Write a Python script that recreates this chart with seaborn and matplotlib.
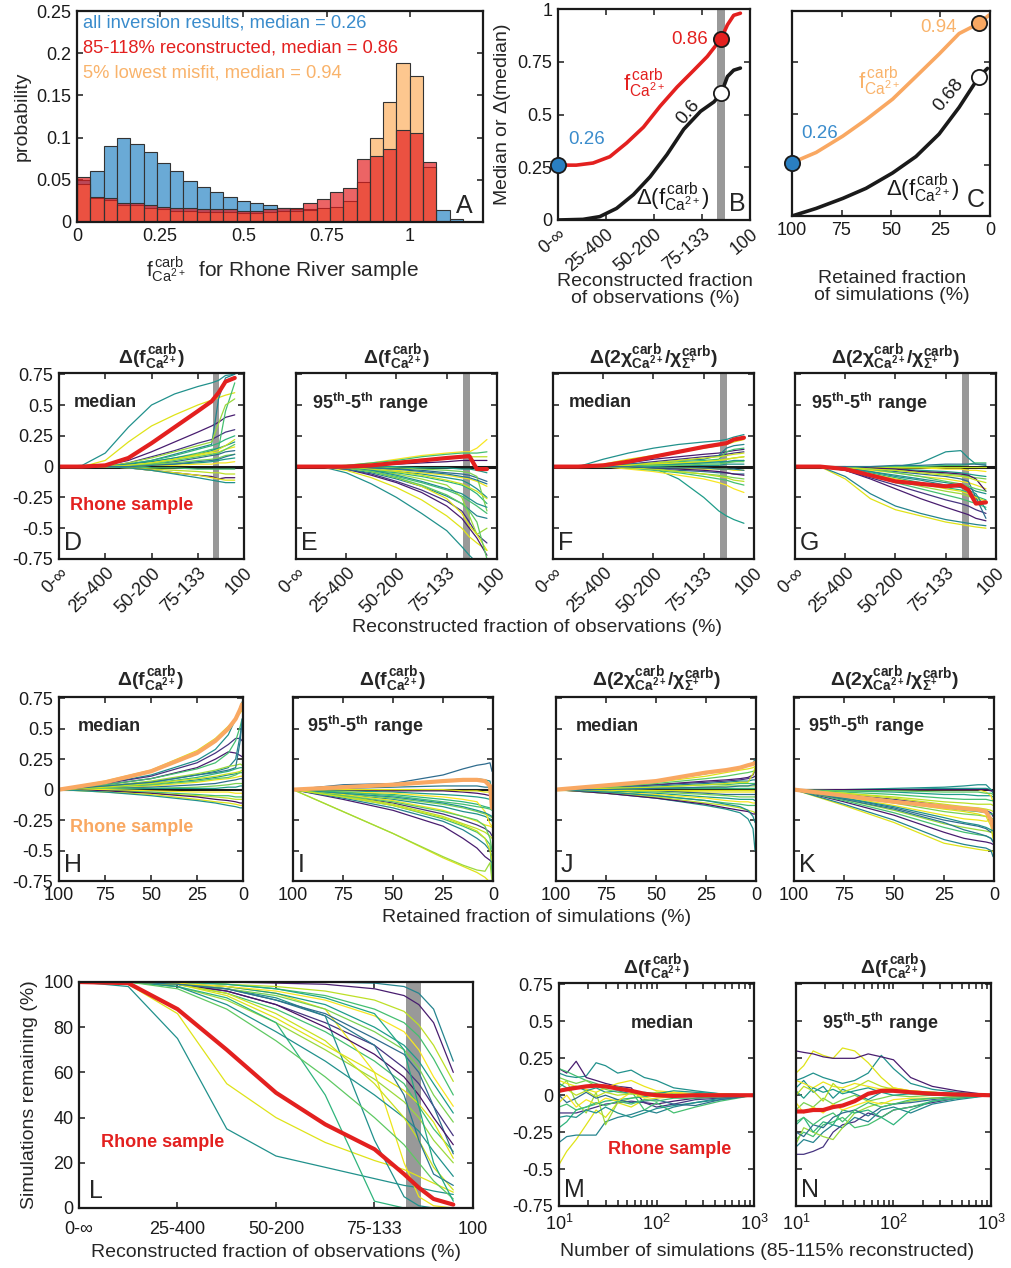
import numpy as np
import pandas as pd
import seaborn as sns
import matplotlib
matplotlib.use("Agg")
import matplotlib.pyplot as plt

sns.set_theme(style="ticks")
plt.rcParams["font.family"] = ["Liberation Sans", "DejaVu Sans"]
plt.rcParams["mathtext.fontset"] = "custom"
plt.rcParams["mathtext.rm"] = "Liberation Sans"
plt.rcParams["mathtext.it"] = "Liberation Sans"
plt.rcParams["mathtext.bf"] = "Liberation Sans:bold"

# ---------------- data ----------------
# panel A histograms (bin width 0.04, from 0 to 1.2)
BIN_EDGES = [round(0.04 * i, 2) for i in range(31)]
ALL_RESULTS = [0.050, 0.060, 0.090, 0.100, 0.092, 0.083, 0.070, 0.060, 0.049, 0.041,
               0.035, 0.030, 0.025, 0.022, 0.020, 0.017, 0.015, 0.015, 0.015, 0.015,
               0.015, 0.015, 0.015, 0.015, 0.015, 0.015, 0.015, 0.014, 0.003, 0.0]
LOW_MISFIT = [0.045, 0.028, 0.026, 0.020, 0.020, 0.017, 0.015, 0.013, 0.013, 0.012,
              0.012, 0.012, 0.011, 0.011, 0.012, 0.013, 0.013, 0.014, 0.016, 0.018,
              0.025, 0.047, 0.100, 0.142, 0.188, 0.173, 0.065, 0.0, 0.0, 0.0]
RECONSTRUCTED = [0.053, 0.030, 0.029, 0.023, 0.023, 0.020, 0.018, 0.016, 0.016, 0.015,
                 0.015, 0.015, 0.013, 0.013, 0.015, 0.017, 0.016, 0.022, 0.027, 0.036,
                 0.040, 0.075, 0.078, 0.086, 0.109, 0.106, 0.071, 0.0, 0.0, 0.0]

# panel B
B_XF = [0, 0.38, 0.73, 1.08, 1.43, 1.78, 2.13, 2.48, 2.83, 3.11, 3.40, 3.53, 3.66, 3.80]
B_F = [0.26, 0.26, 0.27, 0.30, 0.365, 0.44, 0.54, 0.63, 0.71, 0.775, 0.86, 0.925, 0.97, 0.98]
B_XD = [0, 0.52, 0.87, 1.22, 1.57, 1.92, 2.27, 2.62, 2.97, 3.25, 3.40, 3.53, 3.66, 3.80]
B_D = [0, 0.003, 0.016, 0.055, 0.12, 0.205, 0.31, 0.43, 0.515, 0.56, 0.60, 0.68, 0.71, 0.72]

# panel C
C_XF = [100, 87.8, 74.3, 62.6, 49.2, 37.4, 25.7, 15.6, 5.5, 0.5]
C_F = [0.26, 0.31, 0.39, 0.47, 0.57, 0.68, 0.79, 0.89, 0.94, 0.98]
C_XD = [100, 87.8, 74.3, 62.6, 49.2, 37.4, 25.7, 15.6, 5.5, 1.3]
C_D = [0, 0.037, 0.086, 0.135, 0.21, 0.29, 0.40, 0.53, 0.68, 0.72]

CATS = ["0-\u221e", "25-400", "50-200", "75-133", "100"]
SIM_SHADES = [0.5, 0.95, 0.08, 0.15, 0.45, 0.7, 0.85, 0.65, 0.5, 0.97, 0.35,
              0.8, 0.55, 0.99, 0.7, 0.9, 0.05, 0.95, 0.5, 0.75, 0.92, 0.4, 0.6]

# panels D-G, L: reconstructed fraction grid
X_REC = [0, 0.5, 1, 1.5, 2, 2.5, 3, 3.3, 3.45, 3.6, 3.8]
RHONE_D = [0, 0, 0.01, 0.07, 0.19, 0.32, 0.45, 0.53, 0.60, 0.69, 0.72]
D_MEDIAN = [
    [0, 0.01, 0.11, 0.32, 0.50, 0.59, 0.65, 0.68, 0.70, 0.74, 0.75],
    [0, 0, 0.05, 0.20, 0.33, 0.42, 0.50, 0.54, 0.56, 0.58, 0.60],
    [0, 0, 0.01, 0.05, 0.12, 0.20, 0.28, 0.33, 0.36, 0.40, 0.42],
    [0, 0, 0, 0.03, 0.08, 0.13, 0.19, 0.22, 0.25, 0.28, 0.30],
    [0, 0, 0, 0.02, 0.05, 0.10, 0.15, 0.18, 0.55, 0.72, 0.75],
    [0, 0, 0, 0.02, 0.04, 0.07, 0.11, 0.14, 0.15, 0.45, 0.68],
    [0, 0, 0, 0.03, 0.07, 0.12, 0.17, 0.20, 0.35, 0.50, 0.55],
    [0, 0, 0, 0.02, 0.05, 0.09, 0.14, 0.17, 0.19, 0.22, 0.25],
    [0, 0, 0, 0.02, 0.04, 0.07, 0.10, 0.13, 0.15, 0.17, 0.20],
    [0, 0, 0, 0.01, 0.03, 0.06, 0.09, 0.11, 0.12, 0.14, 0.16],
    [0, 0, 0, 0.01, 0.02, 0.04, 0.07, 0.09, 0.10, 0.12, 0.13],
    [0, 0, 0, 0.01, 0.02, 0.03, 0.05, 0.06, 0.07, 0.09, 0.10],
    [0, 0, 0, 0, 0.01, 0.02, 0.03, 0.04, 0.05, 0.06, 0.07],
    [0, 0, 0, 0, 0.01, 0.01, 0.02, 0.02, 0.03, 0.03, 0.04],
    [0, 0, 0, 0, -0.01, -0.01, -0.02, -0.02, -0.02, -0.02, -0.02],
    [0, 0, 0, -0.01, -0.02, -0.03, -0.04, -0.05, -0.05, -0.06, -0.06],
    [0, 0, 0, -0.01, -0.03, -0.05, -0.07, -0.08, -0.10, -0.09, -0.09],
    [0, 0, 0, -0.01, -0.03, -0.05, -0.07, -0.09, -0.10, -0.11, -0.11],
    [0, 0, 0, -0.01, -0.03, -0.06, -0.09, -0.11, -0.12, -0.13, -0.13],
    [0, 0, 0, 0, 0.02, 0.05, 0.08, 0.10, 0.11, 0.14, 0.18],
    [0, 0, 0, 0.01, 0.03, 0.06, 0.10, 0.12, 0.14, 0.17, 0.22],
    [0, 0, 0, 0, 0.01, 0.02, 0.04, 0.05, 0.06, 0.08, 0.10],
]
RHONE_E = [0, 0, 0, 0.01, 0.03, 0.05, 0.07, 0.08, 0.085, -0.02, -0.02]
E_RANGE = [
    [0, 0, -0.05, -0.14, -0.25, -0.38, -0.52, -0.65, -0.72, -0.78, -0.80],
    [0, 0, -0.03, -0.09, -0.17, -0.27, -0.40, -0.50, -0.57, -0.62, -0.68],
    [0, 0, -0.02, -0.07, -0.13, -0.21, -0.32, -0.42, -0.50, -0.58, -0.72],
    [0, 0, -0.02, -0.06, -0.12, -0.19, -0.28, -0.36, -0.45, -0.55, -0.62],
    [0, 0, -0.02, -0.05, -0.10, -0.16, -0.24, -0.30, -0.35, -0.40, -0.42],
    [0, 0, -0.01, -0.04, -0.08, -0.13, -0.19, -0.24, -0.28, -0.32, -0.38],
    [0, 0, -0.01, -0.03, -0.06, -0.10, -0.15, -0.25, -0.40, -0.55, -0.50],
    [0, 0, -0.01, -0.03, -0.05, -0.08, -0.12, -0.15, -0.18, -0.22, -0.30],
    [0, 0, 0, -0.02, -0.04, -0.06, -0.09, -0.11, -0.14, -0.18, -0.25],
    [0, 0, 0, -0.01, -0.03, -0.05, -0.07, -0.09, -0.10, -0.12, -0.16],
    [0, 0, 0, -0.01, -0.02, -0.03, -0.05, -0.06, -0.07, -0.09, -0.12],
    [0, 0, 0, 0, -0.01, -0.02, -0.03, -0.04, -0.05, -0.08, -0.36],
    [0, 0, 0, 0, 0, -0.01, -0.01, -0.02, -0.02, -0.03, -0.05],
    [0, 0, 0.01, 0.03, 0.06, 0.09, 0.11, 0.12, 0.12, 0.15, 0.22],
    [0, 0, 0.01, 0.03, 0.05, 0.08, 0.10, 0.11, 0.11, 0.11, 0.12],
    [0, 0, 0, 0.02, 0.04, 0.06, 0.07, 0.08, 0.08, 0.08, 0.08],
    [0, 0, 0, 0.01, 0.02, 0.03, 0.04, 0.05, 0.05, 0.05, 0.05],
    [0, 0, -0.01, -0.04, -0.09, -0.16, -0.26, -0.38, -0.48, -0.55, -0.68],
    [0, 0, -0.01, -0.03, -0.07, -0.12, -0.18, -0.22, -0.26, -0.30, -0.33],
    [0, 0, -0.01, -0.04, -0.09, -0.15, -0.23, -0.30, -0.36, -0.45, -0.75],
    [0, 0, 0, -0.02, -0.04, -0.07, -0.11, -0.14, -0.17, -0.20, -0.26],
    [0, 0, 0, -0.01, -0.02, -0.04, -0.06, -0.08, -0.09, -0.11, -0.14],
]
RHONE_F = [0, 0, 0.01, 0.04, 0.08, 0.12, 0.16, 0.18, 0.19, 0.22, 0.235]
F_MEDIAN = [
    [0, 0, 0.06, 0.11, 0.15, 0.18, 0.20, 0.21, 0.22, 0.24, 0.26],
    [0, 0, 0.02, 0.06, 0.09, 0.12, 0.15, 0.17, 0.18, 0.20, 0.22],
    [0, 0, 0.01, 0.03, 0.06, 0.08, 0.10, 0.11, 0.12, 0.13, 0.14],
    [0, 0, 0.01, 0.02, 0.04, 0.06, 0.08, 0.09, 0.10, 0.11, 0.12],
    [0, 0, 0, 0.02, 0.03, 0.05, 0.06, 0.09, 0.15, 0.17, 0.18],
    [0, 0, 0, 0.01, 0.02, 0.04, 0.05, 0.06, 0.12, 0.14, 0.15],
    [0, 0, 0, 0.01, 0.02, 0.03, 0.04, 0.05, 0.06, 0.07, 0.08],
    [0, 0, 0, 0, 0.01, 0.02, 0.03, 0.03, 0.04, 0.04, 0.05],
    [0, 0, 0, 0, 0, 0.01, 0.01, 0.01, 0.02, 0.02, 0.02],
    [0, 0, 0, 0, -0.01, -0.01, -0.02, -0.02, -0.02, -0.03, -0.03],
    [0, 0, 0, -0.01, -0.02, -0.03, -0.04, -0.05, -0.05, -0.06, -0.06],
    [0, 0, 0, -0.01, -0.02, -0.04, -0.06, -0.07, -0.08, -0.09, -0.10],
    [0, 0, 0, 0, -0.01, -0.10, -0.25, -0.36, -0.40, -0.43, -0.46],
    [0, 0, 0, -0.02, -0.04, -0.07, -0.10, -0.13, -0.15, -0.18, -0.21],
    [0, 0, 0, -0.01, -0.03, -0.05, -0.08, -0.10, -0.11, -0.13, -0.15],
    [0, 0, 0, -0.01, -0.02, -0.04, -0.06, -0.08, -0.09, -0.11, -0.12],
    [0, 0, 0, 0, -0.01, -0.02, -0.03, -0.04, -0.05, -0.06, -0.07],
    [0, 0, 0, 0.01, 0.02, 0.03, 0.04, 0.05, 0.06, 0.07, 0.08],
    [0, 0, 0, 0.01, 0.01, 0.02, 0.03, 0.04, 0.04, 0.05, 0.05],
    [0, 0, 0, 0, 0.01, 0.01, 0.02, 0.02, 0.03, 0.04, 0.04],
    [0, 0, 0, 0.01, 0.03, 0.05, 0.07, 0.08, 0.09, 0.10, 0.11],
    [0, 0, 0, 0, -0.01, -0.01, -0.01, -0.02, -0.02, -0.02, -0.03],
]
RHONE_G = [0, 0, -0.02, -0.07, -0.12, -0.14, -0.16, -0.15, -0.19, -0.30, -0.29]
G_RANGE = [
    [0, 0, 0, 0, 0, 0.03, 0.12, 0.13, 0.07, 0.02, 0.01],
    [0, 0, -0.10, -0.26, -0.35, -0.40, -0.45, -0.47, -0.48, -0.49, -0.50],
    [0, 0, -0.03, -0.10, -0.18, -0.26, -0.33, -0.37, -0.39, -0.42, -0.44],
    [0, 0, -0.03, -0.09, -0.15, -0.21, -0.27, -0.30, -0.32, -0.35, -0.38],
    [0, 0, -0.08, -0.22, -0.32, -0.38, -0.43, -0.45, -0.46, -0.47, -0.48],
    [0, 0, -0.02, -0.07, -0.13, -0.18, -0.23, -0.26, -0.28, -0.30, -0.33],
    [0, 0, -0.02, -0.06, -0.11, -0.16, -0.20, -0.22, -0.24, -0.26, -0.30],
    [0, 0, -0.01, -0.05, -0.09, -0.13, -0.17, -0.19, -0.21, -0.24, -0.27],
    [0, 0, -0.01, -0.04, -0.07, -0.10, -0.13, -0.15, -0.17, -0.20, -0.22],
    [0, 0, -0.01, -0.03, -0.05, -0.08, -0.10, -0.12, -0.13, -0.15, -0.18],
    [0, 0, 0, -0.02, -0.04, -0.06, -0.08, -0.10, -0.12, -0.25, -0.42],
    [0, 0, 0, -0.01, -0.03, -0.04, -0.06, -0.07, -0.08, -0.09, -0.10],
    [0, 0, 0, -0.01, -0.02, -0.03, -0.04, -0.05, -0.06, -0.07, -0.08],
    [0, 0, 0, 0, -0.01, -0.01, -0.02, -0.02, -0.03, -0.03, -0.04],
    [0, 0, 0, 0, 0, 0, 0.01, 0.01, 0.02, 0.03, 0.03],
    [0, 0, 0, 0, 0, 0, 0, 0, 0, 0, 0],
    [0, 0, 0, -0.01, -0.02, -0.04, -0.05, -0.06, -0.07, -0.10, -0.20],
    [0, 0, -0.02, -0.06, -0.10, -0.14, -0.18, -0.20, -0.22, -0.25, -0.28],
    [0, 0, -0.01, -0.04, -0.08, -0.11, -0.15, -0.17, -0.19, -0.22, -0.35],
    [0, 0, 0, -0.02, -0.05, -0.08, -0.12, -0.14, -0.16, -0.18, -0.20],
    [0, 0, -0.01, -0.02, -0.03, -0.05, -0.07, -0.08, -0.09, -0.11, -0.13],
    [0, 0, 0, 0, 0.01, 0.01, 0.02, 0.02, 0.02, 0.02, 0.02],
]

# panels H-K: retained fraction grid
X_RET = [100, 75, 50, 25, 15, 8, 4, 1.5, 0.5]
RHONE_H = [0, 0.06, 0.15, 0.30, 0.40, 0.50, 0.58, 0.66, 0.70]
H_MEDIAN = [
    [0, 0.05, 0.12, 0.24, 0.33, 0.45, 0.58, 0.68, 0.72],
    [0, 0.07, 0.16, 0.32, 0.42, 0.52, 0.58, 0.63, 0.65],
    [0, 0.04, 0.09, 0.18, 0.25, 0.31, 0.30, 0.28, 0.27],
    [0, 0.05, 0.11, 0.22, 0.30, 0.37, 0.42, 0.42, 0.40],
    [0, 0.03, 0.06, 0.12, 0.15, 0.18, 0.25, 0.45, 0.55],
    [0, 0.04, 0.09, 0.17, 0.22, 0.30, 0.40, 0.52, 0.58],
    [0, 0.03, 0.07, 0.13, 0.16, 0.19, 0.20, 0.21, 0.20],
    [0, 0.02, 0.05, 0.10, 0.13, 0.15, 0.17, 0.18, 0.18],
    [0, 0.02, 0.04, 0.08, 0.10, 0.12, 0.13, 0.14, 0.14],
    [0, 0.01, 0.03, 0.06, 0.08, 0.09, 0.10, 0.11, 0.11],
    [0, 0.01, 0.02, 0.04, 0.05, 0.07, 0.08, 0.09, 0.09],
    [0, 0.01, 0.01, 0.02, 0.03, 0.04, 0.05, 0.05, 0.05],
    [0, 0, 0.01, 0.01, 0.01, 0.02, 0.02, 0.03, 0.03],
    [0, 0, -0.01, -0.02, -0.02, -0.02, -0.03, -0.03, -0.03],
    [0, -0.01, -0.02, -0.04, -0.05, -0.05, -0.06, -0.06, -0.06],
    [0, -0.01, -0.03, -0.05, -0.06, -0.07, -0.08, -0.08, -0.08],
    [0, -0.01, -0.03, -0.06, -0.08, -0.09, -0.10, -0.11, -0.11],
    [0, -0.02, -0.04, -0.08, -0.10, -0.11, -0.12, -0.13, -0.13],
    [0, -0.02, -0.05, -0.09, -0.11, -0.13, -0.14, -0.15, -0.15],
    [0, 0.02, 0.04, 0.07, 0.09, 0.10, 0.12, 0.14, 0.14],
    [0, 0.02, 0.05, 0.09, 0.11, 0.13, 0.14, 0.15, 0.16],
    [0, 0.03, 0.06, 0.12, 0.14, 0.16, 0.18, 0.40, 0.58],
]
RHONE_I = [0, 0.02, 0.04, 0.07, 0.08, 0.08, 0.07, 0.03, -0.15]
I_RANGE = [
    [0, 0.02, 0.04, 0.07, 0.09, 0.09, 0.08, 0.07, -0.05],
    [0, -0.18, -0.36, -0.56, -0.63, -0.68, -0.72, -0.76, -0.78],
    [0, -0.08, -0.17, -0.30, -0.40, -0.48, -0.55, -0.58, -0.60],
    [0, -0.05, -0.11, -0.20, -0.25, -0.29, -0.32, -0.35, -0.38],
    [0, -0.07, -0.15, -0.26, -0.33, -0.40, -0.45, -0.50, -0.55],
    [0, -0.06, -0.13, -0.24, -0.30, -0.35, -0.40, -0.45, -0.70],
    [0, -0.18, -0.36, -0.55, -0.62, -0.66, -0.67, -0.60, -0.75],
    [0, -0.02, -0.04, -0.08, -0.10, -0.12, -0.14, -0.15, -0.16],
    [0, -0.04, -0.08, -0.14, -0.18, -0.20, -0.22, -0.24, -0.26],
    [0, -0.04, -0.09, -0.17, -0.22, -0.26, -0.29, -0.30, -0.31],
    [0, 0.04, 0.05, 0.12, 0.17, 0.20, 0.21, 0.22, 0.15],
    [0, -0.03, -0.07, -0.12, -0.15, -0.18, -0.20, -0.22, -0.23],
    [0, -0.01, -0.02, -0.04, -0.05, -0.06, -0.07, -0.08, -0.10],
    [0, -0.02, -0.03, -0.06, -0.08, -0.10, -0.18, -0.28, -0.30],
    [0, -0.02, -0.05, -0.10, -0.12, -0.14, -0.15, -0.16, -0.17],
    [0, -0.05, -0.12, -0.22, -0.28, -0.32, -0.35, -0.38, -0.40],
    [0, 0, -0.01, -0.01, -0.02, -0.03, -0.04, -0.05, -0.06],
    [0, 0, 0, 0, -0.01, -0.01, -0.02, -0.02, -0.03],
    [0, -0.03, -0.06, -0.11, -0.14, -0.17, -0.19, -0.21, -0.22],
    [0, -0.05, -0.10, -0.18, -0.22, -0.25, -0.30, -0.40, -0.50],
    [0, -0.06, -0.13, -0.23, -0.29, -0.34, -0.40, -0.50, -0.58],
    [0, 0.01, 0.02, 0.03, 0.03, 0.03, 0.02, 0.02, 0.01],
]
RHONE_J = [0, 0.035, 0.07, 0.14, 0.16, 0.18, 0.20, 0.21, 0.22]
J_MEDIAN = [
    [0, 0.03, 0.07, 0.13, 0.16, 0.18, 0.20, 0.22, 0.25],
    [0, 0.03, 0.06, 0.11, 0.14, 0.16, 0.17, 0.18, 0.19],
    [0, 0.02, 0.04, 0.07, 0.08, 0.09, 0.10, 0.12, 0.16],
    [0, 0.02, 0.04, 0.06, 0.07, 0.08, 0.09, 0.10, 0.11],
    [0, 0.01, 0.03, 0.05, 0.06, 0.07, 0.07, 0.08, 0.08],
    [0, 0.01, 0.02, 0.04, 0.04, 0.05, 0.05, 0.05, 0.05],
    [0, 0.01, 0.01, 0.02, 0.03, 0.03, 0.03, 0.03, 0.03],
    [0, 0, 0.01, 0.01, 0.01, 0.01, 0.01, 0.01, 0.01],
    [0, -0.03, -0.07, -0.13, -0.16, -0.19, -0.24, -0.32, -0.50],
    [0, 0, -0.01, -0.02, -0.02, -0.02, -0.02, -0.02, -0.02],
    [0, -0.01, -0.01, -0.03, -0.04, -0.04, -0.04, -0.04, -0.04],
    [0, -0.01, -0.02, -0.04, -0.05, -0.06, -0.06, -0.06, -0.06],
    [0, -0.01, -0.03, -0.06, -0.07, -0.08, -0.08, -0.08, -0.09],
    [0, -0.02, -0.04, -0.07, -0.09, -0.10, -0.10, -0.11, -0.11],
    [0, -0.02, -0.05, -0.09, -0.11, -0.12, -0.13, -0.13, -0.13],
    [0, -0.03, -0.06, -0.11, -0.13, -0.15, -0.17, -0.18, -0.19],
    [0, -0.03, -0.07, -0.12, -0.15, -0.17, -0.18, -0.20, -0.20],
    [0, 0, 0, 0, 0, 0, 0, 0, 0],
    [0, -0.02, -0.05, -0.09, -0.12, -0.14, -0.17, -0.22, -0.27],
    [0, 0.02, 0.05, 0.09, 0.11, 0.13, 0.14, 0.15, 0.15],
    [0, 0.01, 0.02, 0.04, 0.05, 0.06, 0.06, 0.13, 0.18],
    [0, 0, 0.01, 0.02, 0.02, 0.03, 0.03, 0.04, 0.04],
]
RHONE_K = [0, -0.05, -0.10, -0.14, -0.155, -0.165, -0.18, -0.25, -0.31]
K_RANGE = [
    [0, 0, 0.01, 0.02, 0.03, 0.04, 0.04, 0.0, -0.01],
    [0, -0.13, -0.27, -0.44, -0.47, -0.49, -0.50, -0.50, -0.51],
    [0, -0.10, -0.21, -0.35, -0.40, -0.42, -0.43, -0.44, -0.45],
    [0, -0.04, -0.08, -0.13, -0.15, -0.16, -0.17, -0.19, -0.22],
    [0, -0.12, -0.25, -0.41, -0.45, -0.47, -0.48, -0.50, -0.55],
    [0, -0.09, -0.19, -0.31, -0.35, -0.37, -0.38, -0.40, -0.42],
    [0, -0.08, -0.17, -0.28, -0.31, -0.33, -0.34, -0.35, -0.36],
    [0, -0.04, -0.09, -0.15, -0.17, -0.18, -0.19, -0.20, -0.20],
    [0, 0, 0, 0.01, 0.01, 0.01, 0.01, 0.0, -0.03],
    [0, -0.06, -0.13, -0.21, -0.24, -0.25, -0.26, -0.25, -0.25],
    [0, -0.07, -0.15, -0.25, -0.28, -0.30, -0.32, -0.35, -0.30],
    [0, -0.05, -0.11, -0.18, -0.20, -0.21, -0.22, -0.23, -0.24],
    [0, -0.01, -0.02, -0.04, -0.04, -0.05, -0.05, -0.05, -0.06],
    [0, 0, 0, 0, 0, 0, -0.02, -0.05, -0.10],
    [0, -0.02, -0.04, -0.07, -0.08, -0.08, -0.08, -0.09, -0.09],
    [0, -0.03, -0.06, -0.10, -0.11, -0.12, -0.12, -0.12, -0.13],
    [0, 0, 0, 0, 0, 0, 0, -0.01, -0.01],
    [0, -0.05, -0.10, -0.16, -0.18, -0.20, -0.22, -0.30, -0.40],
    [0, -0.07, -0.14, -0.23, -0.27, -0.29, -0.31, -0.33, -0.34],
    [0, -0.01, -0.01, -0.02, -0.02, -0.02, -0.03, -0.03, -0.04],
    [0, -0.03, -0.07, -0.12, -0.14, -0.15, -0.16, -0.17, -0.18],
    [0, -0.08, -0.16, -0.27, -0.33, -0.36, -0.38, -0.40, -0.43],
]

# panel L: simulations remaining (%)
RHONE_L = [100, 99.5, 88, 70, 51, 37, 26, 15, 9, 4, 1.5]
L_REMAIN = [
    [100, 98, 75, 35, 23, 18, 13, 10, 9, 7.5, 6],
    [100, 99, 86, 55, 40, 29, 21, 17, 14, 11, 7],
    [100, 100, 100, 100, 99.5, 99, 97, 94, 90, 82, 60],
    [100, 100, 99, 96, 90, 82, 72, 62, 55, 45, 32],
    [100, 100, 100, 100, 100, 100, 99.5, 98, 95, 88, 65],
    [100, 100, 99, 95, 88, 78, 65, 55, 45, 35, 25],
    [100, 100, 98, 92, 82, 70, 57, 47, 40, 30, 20],
    [100, 100, 98, 93, 82, 50, 3, 0, 0, 0, 0],
    [100, 100, 99, 97, 93, 85, 30, 5, 1, 0, 0],
    [100, 100, 99, 98, 95, 88, 60, 20, 5, 1, 0],
    [100, 100, 99, 97, 92, 86, 75, 68, 60, 45, 24],
    [100, 100, 99, 97, 94, 88, 78, 70, 62, 50, 38],
    [100, 100, 99.5, 98, 95, 90, 80, 72, 65, 55, 42],
    [100, 100, 99.5, 98, 96, 92, 85, 78, 70, 58, 45],
    [100, 100, 100, 99, 97, 94, 88, 82, 76, 66, 50],
    [100, 100, 100, 99, 98, 96, 92, 87, 81, 72, 56],
    [100, 100, 99, 96, 90, 80, 68, 58, 50, 40, 28],
    [100, 100, 99, 94, 84, 72, 60, 52, 46, 38, 22],
    [100, 100, 98, 90, 78, 65, 50, 40, 34, 25, 14],
    [100, 100, 97, 88, 74, 58, 40, 28, 20, 12, 4],
    [100, 100, 99, 95, 86, 74, 55, 40, 30, 18, 8],
    [100, 100, 99, 97, 92, 85, 72, 50, 30, 15, 10],
    [100, 100, 100, 99, 97, 93, 86, 70, 45, 20, 3],
]

# panels M, N: number of simulations
X_NSIM = [10, 12, 15, 19, 24, 30, 40, 55, 75, 100, 150, 250, 450, 1000]
RHONE_M = [0.03, 0.04, 0.05, 0.06, 0.065, 0.06, 0.045, 0.03, 0.01, 0.0, -0.005, 0.0, 0.0, 0.0]
M_MEDIAN = [
    [0.15, 0.13, 0.12, 0.13, 0.22, 0.20, 0.15, 0.17, 0.12, 0.10, 0.05, 0.03, 0.01, 0.0],
    [-0.47, -0.38, -0.30, -0.20, -0.10, -0.15, -0.05, -0.08, -0.03, -0.02, -0.01, 0.0, 0.0, 0.0],
    [0.18, 0.15, 0.23, 0.12, 0.10, 0.08, 0.06, 0.05, -0.05, -0.06, -0.04, -0.02, -0.01, 0.0],
    [-0.12, -0.12, -0.12, -0.10, -0.08, -0.06, -0.05, -0.04, -0.05, -0.08, -0.06, -0.03, -0.02, 0.0],
    [-0.32, -0.28, -0.27, -0.27, -0.27, -0.18, -0.15, -0.13, -0.10, -0.12, -0.08, -0.05, -0.02, 0.0],
    [0.18, 0.16, 0.13, 0.10, 0.08, 0.05, 0.06, 0.03, -0.10, -0.05, -0.12, -0.08, -0.04, 0.0],
    [0.05, 0.10, -0.05, -0.12, 0.02, -0.20, -0.05, -0.02, 0.0, 0.02, 0.01, 0.01, 0.0, 0.0],
    [-0.22, -0.18, -0.10, -0.08, -0.06, -0.04, -0.03, -0.02, -0.01, 0.0, 0.0, 0.0, 0.0, 0.0],
    [-0.15, -0.14, -0.15, -0.10, -0.12, -0.08, -0.12, -0.15, -0.12, -0.09, -0.07, -0.05, -0.03, 0.0],
    [0.10, 0.08, 0.06, 0.04, 0.02, 0.05, 0.08, 0.10, 0.06, 0.03, 0.02, 0.01, 0.0, 0.0],
    [0.0, -0.05, -0.02, 0.02, -0.02, 0.0, -0.03, -0.05, -0.04, -0.03, -0.06, -0.07, -0.03, 0.0],
    [0.12, 0.10, 0.08, 0.10, 0.06, 0.04, 0.02, 0.01, 0.01, 0.0, 0.0, 0.01, 0.0, 0.0],
    [0.08, 0.05, 0.06, 0.03, 0.05, 0.02, 0.03, 0.01, 0.02, 0.01, 0.03, 0.02, 0.01, 0.0],
    [-0.05, 0.0, -0.08, -0.03, -0.06, -0.02, -0.04, 0.02, -0.02, 0.0, 0.02, 0.0, 0.01, 0.0],
    [-0.08, -0.06, -0.10, -0.08, -0.05, -0.07, -0.04, -0.06, -0.03, -0.04, -0.02, -0.02, -0.01, 0.0],
    [0.02, 0.04, 0.0, 0.03, -0.01, 0.02, 0.0, 0.01, 0.0, 0.01, 0.0, 0.0, 0.0, 0.0],
]
RHONE_N = [-0.11, -0.11, -0.10, -0.10, -0.08, -0.07, -0.04, 0.01, 0.03, 0.03, 0.02, 0.01, 0.005, 0.0]
N_RANGE = [
    [0.10, 0.12, 0.15, 0.12, 0.10, 0.08, 0.10, 0.15, 0.27, 0.18, 0.08, 0.04, 0.02, 0.0],
    [0.15, 0.20, 0.30, 0.27, 0.25, 0.32, 0.30, 0.22, 0.12, 0.05, 0.03, 0.02, 0.01, 0.0],
    [0.30, 0.29, 0.28, 0.26, 0.25, 0.25, 0.25, 0.28, 0.26, 0.24, 0.12, 0.06, 0.03, 0.0],
    [-0.40, -0.40, -0.38, -0.35, -0.25, -0.20, -0.18, -0.12, -0.15, -0.10, -0.08, -0.05, -0.02, 0.0],
    [-0.35, -0.30, -0.32, -0.25, -0.20, -0.22, -0.15, -0.18, -0.10, -0.08, -0.12, -0.06, -0.03, 0.0],
    [-0.30, -0.25, -0.28, -0.20, -0.18, -0.15, -0.22, -0.20, -0.15, -0.10, -0.08, -0.04, -0.02, 0.0],
    [-0.33, -0.22, -0.25, -0.28, -0.30, -0.22, -0.12, -0.08, -0.05, -0.06, -0.04, -0.02, -0.01, 0.0],
    [-0.20, -0.15, -0.25, -0.18, -0.20, -0.10, -0.12, -0.10, -0.15, -0.20, -0.10, -0.04, -0.02, 0.0],
    [0.05, 0.10, 0.02, 0.06, -0.02, 0.04, 0.01, -0.03, 0.02, 0.03, 0.01, 0.02, 0.01, 0.0],
    [0.10, 0.08, 0.05, 0.09, 0.06, 0.05, 0.08, 0.06, 0.04, 0.05, 0.03, 0.02, 0.01, 0.0],
    [-0.25, -0.28, -0.20, -0.22, -0.15, -0.12, -0.10, -0.14, -0.08, -0.06, -0.05, -0.03, -0.01, 0.0],
    [-0.10, -0.05, -0.08, -0.02, -0.06, -0.03, 0.0, -0.04, -0.02, 0.0, -0.01, 0.0, 0.0, 0.0],
    [0.03, -0.02, 0.05, 0.02, 0.04, 0.01, 0.03, 0.05, 0.02, 0.0, 0.01, 0.0, 0.0, 0.0],
    [-0.05, -0.12, -0.08, -0.12, -0.06, -0.10, -0.07, -0.04, -0.06, -0.03, -0.02, -0.02, -0.01, 0.0],
    [-0.18, -0.15, -0.20, -0.15, -0.12, -0.18, -0.10, -0.05, -0.08, -0.06, -0.03, -0.02, -0.01, 0.0],
    [0.00, 0.06, 0.03, -0.04, 0.08, 0.02, 0.05, 0.10, 0.06, 0.04, 0.02, 0.01, 0.0, 0.0],
]

# ---------------- colours ----------------
BLUE_BAR, ORANGE_BAR, RED_BAR = "#6aaad6", "#fdc78f", "#e31a1c"
BLUE_TXT, RED_TXT, ORANGE_TXT = "#3a8ccc", "#e3201f", "#f9b36b"
RHONE_RED, RHONE_ORANGE = "#e3201f", "#f9a862"
BAND = "#999999"

TICK_FS, LABEL_FS, TAG_FS = 13, 14, 13

W, H = 1012, 1268
fig = plt.figure(figsize=(W / 100, H / 100), dpi=100)


def add_ax(x0, y0, x1, y1):
    return fig.add_axes([x0 / W, 1 - y1 / H, (x1 - x0) / W, (y1 - y0) / H])


def style(ax):
    for s in ax.spines.values():
        s.set_linewidth(1.6)
        s.set_color("k")
    ax.tick_params(which="both", direction="in", top=True, right=True, length=4,
                   width=1.1, labelsize=TICK_FS, colors="k", pad=4)
    ax.set_xlabel("")
    ax.set_ylabel("")


def spaghetti(ax, xs, curves, lw=0.9):
    rows = [("s%02d" % i, x, y) for i, c in enumerate(curves) for x, y in zip(xs, c)]
    df = pd.DataFrame(rows, columns=["sim", "x", "y"])
    pal = [plt.cm.viridis(SIM_SHADES[i % len(SIM_SHADES)]) for i in range(len(curves))]
    sns.lineplot(data=df, x="x", y="y", hue="sim", palette=pal, legend=False,
                 lw=lw, estimator=None, sort=False, ax=ax)


def cat_xaxis(ax, rot=45):
    ax.set_xlim(0, 4)
    ax.set_xticks(range(5))
    ax.set_xticklabels(CATS, rotation=rot, ha="right", rotation_mode="anchor")


def delta_yaxis(ax, labels=True):
    ax.set_ylim(-0.75, 0.76)
    ax.set_yticks([-0.75, -0.5, -0.25, 0, 0.25, 0.5, 0.75])
    if labels:
        ax.set_yticklabels(["-0.75", "-0.5", "-0.25", "0", "0.25", "0.5", "0.75"])
    else:
        ax.set_yticklabels([])


def letter(ax, s, right=False):
    if right:
        ax.text(0.975, 0.02, s, transform=ax.transAxes, ha="right", va="bottom", fontsize=18)
    else:
        ax.text(0.025, 0.02, s, transform=ax.transAxes, ha="left", va="bottom", fontsize=18)


F_LBL = r"$\mathregular{f^{\,carb}_{Ca^{2+}}}$"
D_LBL = r"$\mathregular{\Delta(f^{\,carb}_{Ca^{2+}})}$"
T_F = r"$\mathbf{\Delta(f^{\,carb}_{Ca^{2+}})}$"
T_CHI = r"$\mathbf{\Delta(2\chi^{carb}_{Ca^{2+}}/\chi^{carb}_{\Sigma^{+}})}$"
RANGE_LBL = r"$\mathbf{95^{th}}$-$\mathbf{5^{th}}$ range"

# ---------------- A ----------------
ax = add_ax(77, 11, 483, 222)
centers = [(BIN_EDGES[i] + BIN_EDGES[i + 1]) / 2 for i in range(30)]
for h, c, a in [(ALL_RESULTS, BLUE_BAR, 1.0), (LOW_MISFIT, ORANGE_BAR, 1.0), (RECONSTRUCTED, RED_BAR, 0.68)]:
    sns.histplot(x=centers, weights=h, bins=BIN_EDGES, color=c, alpha=a,
                 edgecolor="#333333", linewidth=0.8, ax=ax)
style(ax)
ax.set_xlim(0, 1.22)
ax.set_ylim(0, 0.25)
ax.set_xticks([0, 0.25, 0.5, 0.75, 1])
ax.set_xticklabels(["0", "0.25", "0.5", "0.75", "1"])
ax.set_yticks([0, 0.05, 0.1, 0.15, 0.2, 0.25])
ax.set_yticklabels(["0", "0.05", "0.1", "0.15", "0.2", "0.25"])
ax.set_ylabel("probability", fontsize=LABEL_FS, labelpad=4)
ax.text(0.015, 0.945, "all inversion results, median = 0.26", color=BLUE_TXT,
        transform=ax.transAxes, fontsize=13.2, va="center")
ax.text(0.015, 0.825, "85-118% reconstructed, median = 0.86", color=RED_TXT,
        transform=ax.transAxes, fontsize=13.2, va="center")
ax.text(0.015, 0.705, "5% lowest misfit, median = 0.94", color=ORANGE_TXT,
        transform=ax.transAxes, fontsize=13.2, va="center")
letter(ax, "A", right=True)
fig.text(282 / W, 1 - 270 / H, F_LBL + "  for Rhone River sample", ha="center",
         va="center", fontsize=15)

# ---------------- B ----------------
ax = add_ax(558, 9, 750, 220)
ax.axvspan(3.32, 3.47, color=BAND, lw=0, zorder=0)
sns.lineplot(x=B_XF, y=B_F, color=RHONE_RED, lw=2.6, ax=ax)
sns.lineplot(x=B_XD, y=B_D, color="k", lw=2.6, ax=ax)
sns.scatterplot(x=[B_XF[0]], y=[B_F[0]], color="#2a7fc1", s=120, edgecolor="k", linewidth=1.3, ax=ax, zorder=5, clip_on=False)
sns.scatterplot(x=[B_XF[10]], y=[B_F[10]], color="#e3201f", s=120, edgecolor="k", linewidth=1.3, ax=ax, zorder=5)
sns.scatterplot(x=[B_XD[10]], y=[B_D[10]], color="white", s=120, edgecolor="k", linewidth=1.3, ax=ax, zorder=5)
style(ax)
cat_xaxis(ax, rot=40)
ax.set_ylim(0, 1)
ax.set_yticks([0, 0.25, 0.5, 0.75, 1])
ax.set_yticklabels(["0", "0.25", "0.5", "0.75", "1"])
ax.set_ylabel(r"Median or $\mathregular{\Delta}$(median)", fontsize=LABEL_FS, labelpad=3)
ax.text(0.6, 0.38, "0.26", color=BLUE_TXT, fontsize=13.5, ha="center", va="center")
ax.text(2.75, 0.855, "0.86", color=RED_TXT, fontsize=13.5, ha="center", va="center")
ax.text(1.8, 0.65, F_LBL, color=RED_TXT, fontsize=16, ha="center", va="center")
ax.text(2.72, 0.51, "0.6", color="k", fontsize=13.5, ha="center", va="center", rotation=50)
ax.text(2.4, 0.11, D_LBL, color="k", fontsize=16, ha="center", va="center")
letter(ax, "B", right=True)
fig.text(655 / W, 1 - 290 / H, "Reconstructed fraction\nof observations (%)", ha="center",
         va="center", fontsize=LABEL_FS, linespacing=1.05)

# ---------------- C ----------------
ax = add_ax(792, 11, 990, 216)
sns.lineplot(x=C_XF, y=C_F, color=RHONE_ORANGE, lw=2.6, ax=ax)
sns.lineplot(x=C_XD, y=C_D, color="k", lw=2.6, ax=ax)
sns.scatterplot(x=[C_XF[0]], y=[C_F[0]], color="#2a7fc1", s=120, edgecolor="k", linewidth=1.3, ax=ax, zorder=5, clip_on=False)
sns.scatterplot(x=[C_XF[8]], y=[C_F[8]], color=RHONE_ORANGE, s=120, edgecolor="k", linewidth=1.3, ax=ax, zorder=5)
sns.scatterplot(x=[C_XD[8]], y=[C_D[8]], color="white", s=120, edgecolor="k", linewidth=1.3, ax=ax, zorder=5)
style(ax)
ax.set_xlim(100, 0)
ax.set_xticks([100, 75, 50, 25, 0])
ax.set_xticklabels(["100", "75", "50", "25", "0"])
ax.set_ylim(0, 1)
ax.set_yticks([0, 0.25, 0.5, 0.75, 1])
ax.set_yticklabels([])
ax.text(86, 0.40, "0.26", color=BLUE_TXT, fontsize=13.5, ha="center", va="center")
ax.text(26, 0.92, "0.94", color=ORANGE_TXT, fontsize=13.5, ha="center", va="center")
ax.text(56, 0.66, F_LBL, color=ORANGE_TXT, fontsize=16, ha="center", va="center")
ax.text(21, 0.59, "0.68", color="k", fontsize=13.5, ha="center", va="center", rotation=50)
ax.text(34, 0.14, D_LBL, color="k", fontsize=16, ha="center", va="center")
letter(ax, "C", right=True)
fig.text(892 / W, 1 - 287 / H, "Retained fraction\nof simulations (%)", ha="center",
         va="center", fontsize=LABEL_FS, linespacing=1.05)

# ---------------- D-G ----------------
row2 = [((59, 244), D_MEDIAN, RHONE_D, T_F, "median", "D"),
        ((296, 497), E_RANGE, RHONE_E, T_F, RANGE_LBL, "E"),
        ((553, 754), F_MEDIAN, RHONE_F, T_CHI, "median", "F"),
        ((795, 996), G_RANGE, RHONE_G, T_CHI, RANGE_LBL, "G")]
for i, ((x0, x1), curves, rhone, title, tag, let) in enumerate(row2):
    ax = add_ax(x0, 373, x1, 559)
    ax.axhline(0, color="k", lw=2.2, zorder=0.5)
    ax.axvspan(3.32, 3.47, color=BAND, lw=0, zorder=0)
    spaghetti(ax, X_REC, curves)
    sns.lineplot(x=X_REC, y=rhone, color=RHONE_RED, lw=3, ax=ax)
    style(ax)
    cat_xaxis(ax)
    delta_yaxis(ax, labels=(i == 0))
    ax.set_title(title, fontsize=14, pad=5)
    ax.text(0.08, 0.84, tag, transform=ax.transAxes, fontsize=TAG_FS, fontweight="bold", va="center")
    if i == 0:
        ax.text(0.06, 0.29, "Rhone sample", transform=ax.transAxes, fontsize=TAG_FS,
                fontweight="bold", color=RHONE_RED, va="center")
    letter(ax, let)
fig.text(537 / W, 1 - 628 / H, "Reconstructed fraction of observations (%)", ha="center",
         va="center", fontsize=LABEL_FS)

# ---------------- H-K ----------------
row3 = [((59, 243), H_MEDIAN, RHONE_H, T_F, "median", "H"),
        ((293, 493), I_RANGE, RHONE_I, T_F, RANGE_LBL, "I"),
        ((556, 756), J_MEDIAN, RHONE_J, T_CHI, "median", "J"),
        ((794, 994), K_RANGE, RHONE_K, T_CHI, RANGE_LBL, "K")]
for i, ((x0, x1), curves, rhone, title, tag, let) in enumerate(row3):
    ax = add_ax(x0, 697, x1, 881)
    ax.axhline(0, color="k", lw=1.5, zorder=0.5)
    spaghetti(ax, X_RET, curves)
    sns.lineplot(x=X_RET, y=rhone, color=RHONE_ORANGE, lw=3, ax=ax)
    style(ax)
    ax.set_xlim(100, 0)
    ax.set_xticks([100, 75, 50, 25, 0])
    ax.set_xticklabels(["100", "75", "50", "25", "0"])
    delta_yaxis(ax, labels=(i == 0))
    ax.set_title(title, fontsize=14, pad=8)
    ax.text(0.1 if i in (0, 2) else 0.07, 0.84, tag, transform=ax.transAxes,
            fontsize=TAG_FS, fontweight="bold", va="center")
    if i == 0:
        ax.text(0.06, 0.29, "Rhone sample", transform=ax.transAxes, fontsize=TAG_FS,
                fontweight="bold", color=RHONE_ORANGE, va="center")
    letter(ax, let)
fig.text(537 / W, 1 - 918 / H, "Retained fraction of simulations (%)", ha="center",
         va="center", fontsize=LABEL_FS)

# ---------------- L ----------------
ax = add_ax(79, 982, 473, 1208)
ax.axvspan(3.32, 3.47, color=BAND, lw=0, zorder=0)
spaghetti(ax, X_REC, L_REMAIN)
sns.lineplot(x=X_REC, y=RHONE_L, color=RHONE_RED, lw=3, ax=ax)
style(ax)
ax.tick_params(axis="x", pad=9)
ax.set_xlim(0, 4)
ax.set_xticks(range(5))
ax.set_xticklabels(CATS)
ax.set_ylim(0, 100)
ax.set_yticks([0, 20, 40, 60, 80, 100])
ax.set_yticklabels(["0", "20", "40", "60", "80", "100"])
ax.set_ylabel("Simulations remaining (%)", fontsize=LABEL_FS, labelpad=4)
ax.set_xlabel("Reconstructed fraction of observations (%)", fontsize=LABEL_FS, labelpad=5)
ax.text(0.055, 0.29, "Rhone sample", transform=ax.transAxes, fontsize=TAG_FS,
        fontweight="bold", color=RHONE_RED, va="center")
letter(ax, "L")

# ---------------- M, N ----------------
row4 = [((559, 754), M_MEDIAN, RHONE_M, "median", "M"),
        ((796, 991), N_RANGE, RHONE_N, RANGE_LBL, "N")]
for i, ((x0, x1), curves, rhone, tag, let) in enumerate(row4):
    ax = add_ax(x0, 983, x1, 1206)
    spaghetti(ax, X_NSIM, curves)
    sns.lineplot(x=X_NSIM, y=rhone, color=RHONE_RED, lw=3, ax=ax)
    ax.set_xscale("log")
    style(ax)
    ax.tick_params(axis="x", pad=6)
    ax.set_xlim(10, 1000)
    ax.set_xticks([10, 100, 1000])
    ax.set_xticklabels([r"$10^1$", r"$10^2$", r"$10^3$"])
    delta_yaxis(ax, labels=(i == 0))
    ax.set_title(T_F, fontsize=14, pad=6)
    ax.text(0.53 if i == 0 else 0.43, 0.82, tag, transform=ax.transAxes, fontsize=TAG_FS,
            fontweight="bold", va="center", ha="center")
    if i == 0:
        ax.text(0.25, 0.255, "Rhone sample", transform=ax.transAxes, fontsize=TAG_FS,
                fontweight="bold", color=RHONE_RED, va="center")
    letter(ax, let)
fig.text(767 / W, 1 - 1252 / H, "Number of simulations (85-115% reconstructed)",
         ha="center", va="center", fontsize=LABEL_FS)

fig.savefig("out.png", dpi=100)
